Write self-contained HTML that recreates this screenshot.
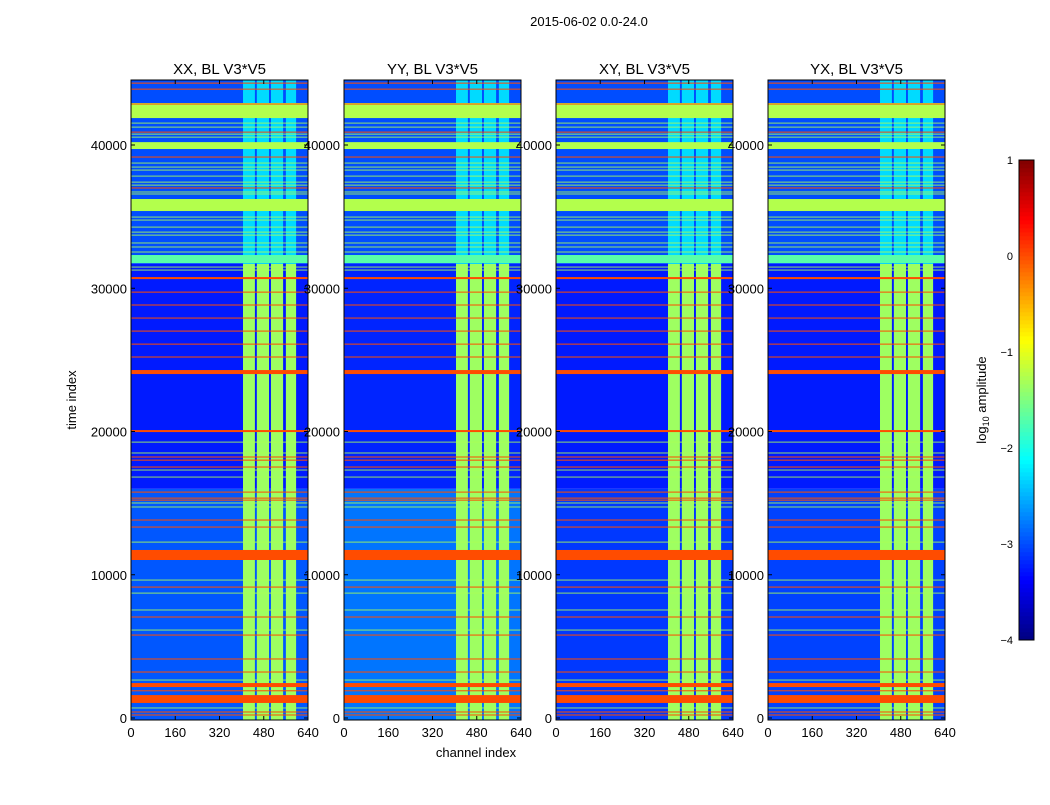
<!DOCTYPE html>
<html><head><meta charset="utf-8"><style>
body{margin:0;background:#fff;font-family:"Liberation Sans",sans-serif}
svg text{font-family:"Liberation Sans",sans-serif;fill:#000}
</style></head><body>
<svg id="chart" width="1050" height="800" xmlns="http://www.w3.org/2000/svg">
<text x="589" y="26" font-size="13" text-anchor="middle">2015-06-02 0.0-24.0</text>
<text x="476" y="757" font-size="13" text-anchor="middle">channel index</text>
<text x="76" y="400" font-size="13" text-anchor="middle" transform="rotate(-90 76 400)">time index</text>
<g id="panels"></g>
<g id="cbar"></g>
</svg>
<script>
const panelTitles = ["XX, BL V3*V5","YY, BL V3*V5","XY, BL V3*V5","YX, BL V3*V5"];
const xTicks = [0,160,320,480,640];
const yTicks = [0,10000,20000,30000,40000];
const cbarTicks = [1,0,-1,-2,-3,-4];
// background regions [start, end, log10 amp] per panel
const bgXX = [[-150,16000,-2.95],[16000,31700,-3.25],[31700,44540,-3.0]];
const bgYY = [[-150,16000,-2.8],[16000,31700,-3.2],[31700,44540,-3.0]];
const bgXY = [[-150,16000,-3.1],[16000,31700,-3.25],[31700,44540,-3.0]];
const bgYX = [[-150,16000,-3.05],[16000,31700,-3.25],[31700,44540,-3.0]];
// bright channel strips [ch0, ch1]
const strips = [[405,448],[455,499],[506,550],[560,597]];
// strip level per time region
const stripLevels = [[-150,31700,-1.35],[31700,44540,-2.3]];
// thick full-width bands [start, end, level]
const thickBands = [[1050,1600,0],[2160,2440,0],[11030,11730,0],[24010,24290,0],[30640,30780,0],[19960,20100,0],
  [41880,42930,-1.25],[39720,40200,-1.25],[35390,36230,-1.25],[31760,32320,-1.7]];
// thin orange lines (values)
const orangeLines = [44320,43900,42860,40900,39160,37000,29730,28830,27920,27010,26100,25200,18220,18000,17520,15770,15350,15210,13820,13330,9140,7050,5790,4120,3210,1900,420,210];
// thin green lines
const greenLines = [41530,41250,40760,40550,38740,38460,38250,37830,37410,37200,36720,36580,34970,34760,34270,33920,33710,33160,32880,32530,31480,31270,19260,18500,17310,16820,15010,14730,12280,9630,8720,7540,6140,2650,700];

const bgs=[bgXX,bgYY,bgXY,bgYX];
const lefts=[131,344,556,768], W=177, TOP=80, BOT=720;
const NS="http://www.w3.org/2000/svg";
function jet(v){const t=Math.max(0,Math.min(1,(v+4)/5));const c=x=>Math.round(255*Math.max(0,Math.min(1,1.5-Math.abs(4*t-x))));return `rgb(${c(3)},${c(2)},${c(1)})`;}
const yS=v=>718-v*573/40000;
function mk(tag,at,par){const e=document.createElementNS(NS,tag);for(const k in at)e.setAttribute(k,at[k]);par.appendChild(e);return e;}
const root=document.getElementById('panels');
lefts.forEach((L,pi)=>{
  const g=mk('g',{},root);
  
  
  const xS=c=>L+c/640*W;
  const clip=v=>Math.max(TOP,Math.min(BOT,yS(v)));
  const rect=(c0,c1,v0,v1,lv,name)=>{const y0=clip(v1),y1=clip(v0);const r=mk('rect',{x:xS(c0),y:y0,width:xS(c1)-xS(c0),height:Math.max(0.8,y1-y0),fill:jet(lv)},g);
    
    };
  bgs[pi].forEach(b=>rect(0,640,b[0],b[1],b[2],'background-band'));
  stripLevels.forEach(s=>strips.forEach(st=>rect(st[0],st[1],s[0],s[1],s[2],'channel-strip')));
  thickBands.forEach(b=>rect(0,640,b[0],b[1],b[2],'rfi-band'));
  orangeLines.forEach(v=>rect(0,640,v-35,v+35,0,'rfi-line'));
  greenLines.forEach(v=>rect(0,640,v-30,v+30,-1.3,'flag-line'));
  const fr=mk('rect',{x:L,y:TOP,width:W,height:BOT-TOP,fill:'none',stroke:'#000','stroke-width':1},g);
  
  
  const t=mk('text',{x:L+W/2,y:74,'font-size':15,'text-anchor':'middle'},g);t.textContent=panelTitles[pi];
  
  
  xTicks.forEach(c=>{mk('line',{x1:xS(c),x2:xS(c),y1:BOT,y2:BOT-4,stroke:'#000'},g);mk('line',{x1:xS(c),x2:xS(c),y1:TOP,y2:TOP+4,stroke:'#000'},g);
    const tx=mk('text',{x:xS(c),y:737,'font-size':13,'text-anchor':'middle'},g);tx.textContent=c;
    
    });
  yTicks.forEach(v=>{mk('line',{x1:L,x2:L+4,y1:yS(v),y2:yS(v),stroke:'#000'},g);mk('line',{x1:L+W,x2:L+W-4,y1:yS(v),y2:yS(v),stroke:'#000'},g);
    const ty=mk('text',{x:L-4,y:yS(v)+5,'font-size':13,'text-anchor':'end'},g);ty.textContent=v;
    
    });
});
const cb=document.getElementById('cbar');
const cbY=v=>640-(v+4)/5*480;
for(let i=0;i<120;i++){const v0=-4+i*5/120;const r=mk('rect',{x:1019,y:cbY(v0+5/120),width:15,height:4.3,fill:jet(v0+2.5/120)},cb);
  
  }
const cf=mk('rect',{x:1019,y:160,width:15,height:480,fill:'none',stroke:'#000'},cb);


cbarTicks.forEach(v=>{const t=mk('text',{x:1013,y:cbY(v)+4,'font-size':11,'text-anchor':'end'},cb);t.textContent=v<0?'\u2212'+(-v):v;
  
  });
const cl=mk('text',{x:986,y:400,'font-size':13,'text-anchor':'middle',transform:'rotate(-90 986 400)'},cb);
cl.innerHTML='log<tspan font-size="9" dy="3">10</tspan><tspan dy="-3"> amplitude</tspan>';


</script>
</body></html>
